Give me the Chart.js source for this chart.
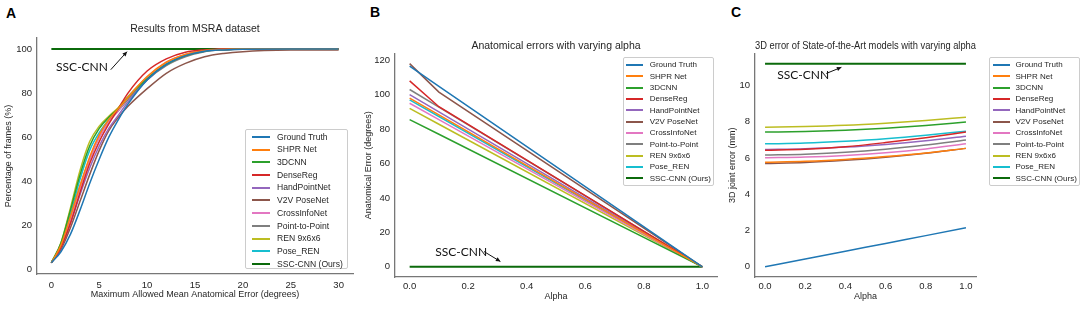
<!DOCTYPE html>
<html>
<head>
<meta charset="utf-8">
<script src="https://cdn.jsdelivr.net/npm/chart.js@4.4.1/dist/chart.umd.min.js"></script>
<style>
  body { margin: 0; background: #fff; width: 1084px; height: 311px; overflow: hidden; position: relative; font-family: "Liberation Sans", Arial, sans-serif; }
  .panel { position: absolute; top: 0; height: 311px; }
  .letter { position: absolute; font-weight: bold; font-size: 14px; line-height: 14px; color: #000; }
  .legend { position: absolute; background: rgba(255,255,255,0.85); border: 1px solid #ccc; border-radius: 2px; box-sizing: border-box; color: #262626; }
  .legend .row { position: absolute; left: 0; right: 0; white-space: nowrap; }
  .legend .swatch { position: absolute; height: 2px; }
  .legend .lbl { position: absolute; top: 0; }
</style>
</head>
<body>
  <div class="letter" style="left:6px;top:6px">A</div>
  <div class="letter" style="left:370px;top:5px">B</div>
  <div class="letter" style="left:731px;top:5px">C</div>

  <div class="panel" style="left:0;width:360px"><canvas id="chart-a"></canvas></div>
  <div class="panel" style="left:360px;width:360px"><canvas id="chart-b"></canvas></div>
  <div class="panel" style="left:720px;width:364px"><canvas id="chart-c"></canvas></div>

  <div class="legend" id="legend-a"></div>
  <div class="legend" id="legend-b"></div>
  <div class="legend" id="legend-c"></div>

<script>
const seriesNames = ['Ground Truth', 'SHPR Net', '3DCNN', 'DenseReg', 'HandPointNet', 'V2V PoseNet',
  'CrossInfoNet', 'Point-to-Point', 'REN 9x6x6', 'Pose_REN', 'SSC-CNN (Ours)'];
const seriesColors = ['#1f77b4', '#ff7f0e', '#2ca02c', '#d62728', '#9467bd', '#8c564b',
  '#e377c2', '#7f7f7f', '#bcbd22', '#17becf', '#0b6a0b'];

// ── A: cumulative % of frames vs max allowed error ──
const errA      = [0, 1, 2, 3, 4, 5, 6, 7, 8, 10, 12, 14, 16, 18, 20, 25, 30];
const gtA       = [3, 8, 16, 27, 39, 50, 60, 68, 75, 86, 93, 97, 99, 99.6, 99.9, 100, 100];
const shprA     = [3, 11, 24, 38, 51, 61, 68, 73, 78, 87.5, 94, 97.5, 99.2, 99.8, 100, 100, 100];
const cnn3dA    = [3, 12, 27, 43, 56, 64, 69, 73, 78, 86.5, 93, 97, 99, 99.7, 100, 100, 100];
const denseA    = [3, 10, 21, 35, 48, 58, 66, 73, 80, 90, 95.5, 98.5, 99.6, 100, 100, 100, 100];
const handPtA   = [3, 10, 21, 34, 46, 56, 64, 70, 76, 86, 93, 97, 99, 99.7, 100, 100, 100];
const v2vA      = [3, 9, 19, 31, 43, 54, 63, 69, 74, 82, 89, 93.5, 96.5, 98, 98.8, 99.5, 99.6];
const crossA    = [3, 10, 23, 37, 50, 60, 67, 72, 78, 87, 94, 97.5, 99.3, 99.8, 100, 100, 100];
const p2pA      = [3, 11, 24, 38, 50, 60, 67, 72, 77, 86, 92.5, 96.5, 98.8, 99.6, 99.9, 100, 100];
const renA      = [3, 12, 28, 45, 58, 65, 69.5, 73.5, 78.5, 87, 93.5, 97.5, 99.3, 99.8, 100, 100, 100];
const poseRenA  = [3, 11, 25, 41, 54, 62, 68, 73, 78, 87, 93.5, 97.3, 99.2, 99.8, 100, 100, 100];
const sscA      = [100, 100, 100, 100, 100, 100, 100, 100, 100, 100, 100, 100, 100, 100, 100, 100, 100];
const xTicksA = [0, 5, 10, 15, 20, 25, 30];
const yTicksA = [0, 20, 40, 60, 80, 100];

// ── B: anatomical error vs alpha ──
const alphaB    = [0, 0.1, 1.0];
const gtB       = [116.5, 104.8, 0];
const shprB     = [98, 88.2, 0];
const cnn3dB    = [85.5, 77, 0];
const denseB    = [108, 93, 0];
const handPtB   = [100, 90, 0];
const v2vB      = [118, 101.5, 0];
const crossB    = [95, 85.5, 0];
const p2pB      = [103, 92.7, 0];
const renB      = [92, 82.8, 0];
const poseRenB  = [97, 87.3, 0];
const sscB      = [0, 0, 0];
const alphaTicks = [0, 0.2, 0.4, 0.6, 0.8, 1.0];
const yTicksB = [0, 20, 40, 60, 80, 100, 120];

// ── C: 3D joint error vs alpha ──
const alphaC    = [0, 0.2, 0.4, 0.6, 0.8, 1.0];
const gtC       = [0, 0.43, 0.86, 1.29, 1.72, 2.15];
const shprC     = [5.77, 5.82, 5.92, 6.08, 6.28, 6.53];
const cnn3dC    = [7.43, 7.46, 7.53, 7.64, 7.79, 7.98];
const denseC    = [6.43, 6.48, 6.62, 6.85, 7.12, 7.43];
const handPtC   = [6.47, 6.51, 6.6, 6.75, 6.95, 7.2];
const v2vC      = [5.70, 5.75, 5.87, 6.04, 6.26, 6.53];
const crossC    = [6.01, 6.05, 6.14, 6.29, 6.5, 6.78];
const p2pC      = [6.16, 6.21, 6.31, 6.48, 6.71, 6.99];
const renC      = [7.70, 7.73, 7.8, 7.92, 8.07, 8.25];
const poseRenC  = [6.78, 6.82, 6.92, 7.06, 7.25, 7.48];
const sscC      = [11.2, 11.2, 11.2, 11.2, 11.2, 11.2];
const yTicksC = [0, 2, 4, 6, 8, 10];

const FONT = '"Liberation Sans", Arial, sans-serif';
const INK = '#262626';

// "SSC-CNN" callout with arrow, placed in data coordinates
const callout = {
  id: 'callout',
  afterDatasetsDraw(chart, args, o) {
    if (!o.note) return;
    const { ctx, scales: { x, y } } = chart;
    const px = v => x.getPixelForValue(v), py = v => y.getPixelForValue(v);
    ctx.save();
    ctx.fillStyle = '#111';
    ctx.strokeStyle = '#111';
    ctx.font = '12px Lato, "Open Sans", sans-serif';
    ctx.textAlign = 'center';
    ctx.textBaseline = 'middle';
    ctx.fillText(o.note.text, px(o.note.x), py(o.note.y));
    const [ax1, ay1, ax2, ay2] = o.arrow;
    const x1 = px(ax1), y1 = py(ay1), x2 = px(ax2), y2 = py(ay2);
    ctx.lineWidth = 1;
    ctx.beginPath(); ctx.moveTo(x1, y1); ctx.lineTo(x2, y2); ctx.stroke();
    const ang = Math.atan2(y2 - y1, x2 - x1), h = 5;
    ctx.beginPath();
    ctx.moveTo(x2, y2);
    ctx.lineTo(x2 - h * Math.cos(ang - 0.45), y2 - h * Math.sin(ang - 0.45));
    ctx.lineTo(x2 - h * Math.cos(ang + 0.45), y2 - h * Math.sin(ang + 0.45));
    ctx.closePath();
    ctx.fill();
    ctx.restore();
  }
};

function buildChart(id, cfg) {
  const datasets = cfg.series.map((vals, i) => ({
    label: seriesNames[i],
    data: vals.map((v, k) => ({ x: cfg.xs[k], y: v })),
    borderColor: seriesColors[i],
    borderWidth: i === 10 ? 2 : 1.5,
    pointRadius: 0,
    cubicInterpolationMode: cfg.smooth ? 'monotone' : 'default',
    tension: 0,
    fill: false,
  }));
  const border = { display: true, color: '#777', width: 1.3 };
  return new Chart(document.getElementById(id), {
    type: 'line',
    data: { datasets },
    options: {
      animation: false,
      responsive: true,
      maintainAspectRatio: false,
      devicePixelRatio: 1,
      layout: { padding: cfg.padding },
      plugins: {
        legend: { display: false },
        tooltip: { enabled: false },
        title: {
          display: true, text: cfg.title, fullSize: false, color: INK,
          font: { family: FONT, size: 10.5, weight: 'normal' }, padding: cfg.titlePad,
        },
        callout: { note: cfg.note, arrow: cfg.arrow },
      },
      scales: {
        x: {
          type: 'linear', min: cfg.xRange[0], max: cfg.xRange[1],
          grid: { display: false, drawTicks: false }, border,
          ticks: { color: INK, font: { family: FONT, size: 9.5 }, padding: cfg.xTickPad, maxRotation: 0,
            callback: cfg.xFmt || (v => v) },
          afterBuildTicks: s => { s.ticks = cfg.xTicks.map(v => ({ value: v })); },
          afterFit: s => { s.height = cfg.xHeight; },
          title: { display: true, text: cfg.xTitle, color: INK, font: { family: FONT, size: 9 },
            padding: { top: 0, bottom: cfg.xTitlePad } },
        },
        y: {
          type: 'linear', min: cfg.yRange[0], max: cfg.yRange[1],
          grid: { display: false, drawTicks: false }, border,
          ticks: { color: INK, font: { family: FONT, size: 9.5 }, padding: 5, callback: v => v },
          afterBuildTicks: s => { s.ticks = cfg.yTicks.map(v => ({ value: v })); },
          afterFit: s => { s.width = cfg.yWidth; },
          title: { display: true, text: cfg.yTitle, color: INK, font: { family: FONT, size: 9 },
            padding: { top: cfg.yTitlePad, bottom: 0 } },
        },
      },
    },
    plugins: [callout],
  });
}

function buildLegend(id, L) {
  const el = document.getElementById(id);
  Object.assign(el.style, { left: L.left + 'px', top: L.top + 'px', width: L.w + 'px', height: L.h + 'px', fontSize: L.font + 'px' });
  seriesNames.forEach((name, i) => {
    const row = document.createElement('div');
    row.className = 'row';
    row.style.top = (L.first + i * L.step - L.step / 2) + 'px';
    row.style.height = L.step + 'px';
    row.style.lineHeight = L.step + 'px';
    row.innerHTML = `<span class="swatch" style="left:${L.lineX}px;width:${L.lineW}px;top:${L.step / 2 - 1}px;background:${seriesColors[i]}"></span>` +
      `<span class="lbl" style="left:${L.textX}px">${name}</span>`;
    el.appendChild(row);
  });
}

buildChart('chart-a', {
  xs: errA,
  series: [gtA, shprA, cnn3dA, denseA, handPtA, v2vA, crossA, p2pA, renA, poseRenA, sscA],
  smooth: true,
  title: 'Results from MSRA dataset',
  titlePad: { top: 23, bottom: 2.4 },
  padding: { left: 0, right: 7, top: 0, bottom: 0 },
  xRange: [-1.5, 31.5], yRange: [-2.1, 105],
  xTicks: xTicksA, yTicks: yTicksA,
  xHeight: 37, yWidth: 37, xTickPad: 6,
  xTitle: 'Maximum Allowed Mean Anatomical Error (degrees)', xTitlePad: 10.6,
  yTitle: 'Percentage of frames (%)', yTitlePad: 3,
  note: { text: 'SSC-CNN', x: 3.2, y: 92 },
  arrow: [6.2, 90.6, 7.9, 98.8],
});

buildChart('chart-b', {
  xs: alphaB,
  series: [gtB, shprB, cnn3dB, denseB, handPtB, v2vB, crossB, p2pB, renB, poseRenB, sscB],
  smooth: false,
  title: 'Anatomical errors with varying alpha',
  titlePad: { top: 39.7, bottom: 1.2 },
  padding: { left: 0, right: 3, top: 0, bottom: 0 },
  xRange: [-0.05, 1.05], yRange: [-5.9, 123.9],
  xTicks: alphaTicks, yTicks: yTicksB, xFmt: v => v.toFixed(1),
  xHeight: 34, yWidth: 35, xTickPad: 4,
  xTitle: 'Alpha', xTitlePad: 9.3,
  yTitle: 'Anatomical Error (degrees)', yTitlePad: 3.1,
  note: { text: 'SSC-CNN', x: 0.176, y: 8.3 },
  arrow: [0.254, 8.9, 0.31, 3.1],
});

buildChart('chart-c', {
  xs: alphaC,
  series: [gtC, shprC, cnn3dC, denseC, handPtC, v2vC, crossC, p2pC, renC, poseRenC, sscC],
  smooth: true,
  title: '3D error of State-of-the-Art models with varying alpha',
  titlePad: { top: 39.7, bottom: 1.2 },
  padding: { left: 0, right: 108, top: 0, bottom: 0 },
  xRange: [-0.05, 1.05], yRange: [-0.56, 11.76],
  xTicks: alphaTicks, yTicks: yTicksC, xFmt: v => v.toFixed(1),
  xHeight: 34, yWidth: 35, xTickPad: 4,
  xTitle: 'Alpha', xTitlePad: 9.3,
  yTitle: '3D joint error (mm)', yTitlePad: 7.6,
  note: { text: 'SSC-CNN', x: 0.19, y: 10.55 },
  arrow: [0.305, 10.66, 0.38, 11.0],
});

buildLegend('legend-a', { left: 245, top: 129, w: 103, h: 140, first: 7, step: 12.7, lineX: 6, lineW: 18, textX: 31, font: 8.6 });
buildLegend('legend-b', { left: 622.7, top: 57.3, w: 91.5, h: 128.5, first: 6.7, step: 11.33, lineX: 2.5, lineW: 17, textX: 26, font: 8 });
buildLegend('legend-c', { left: 989, top: 57.3, w: 91, h: 128.5, first: 6.7, step: 11.33, lineX: 2.5, lineW: 17.6, textX: 25.5, font: 8 });
</script>
</body>
</html>
